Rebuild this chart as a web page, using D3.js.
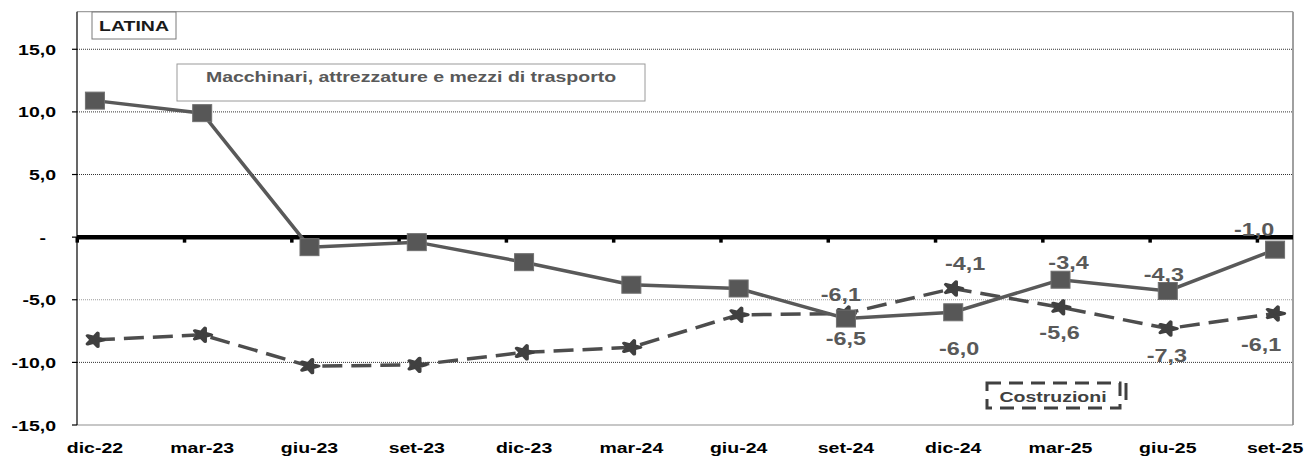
<!DOCTYPE html>
<html>
<head>
  <meta charset="utf-8">
  <title>LATINA</title>
  <script src="https://d3js.org/d3.v7.min.js"></script>
  <style>
    body { margin: 0; background: #ffffff; }
    svg text { font-family: "Liberation Sans", Arial, sans-serif; font-weight: bold; }
  </style>
</head>
<body>
<svg id="chart" width="1316" height="456"></svg>
<script>
  // data
  var categories = ["dic-22", "mar-23", "giu-23", "set-23", "dic-23", "mar-24",
                    "giu-24", "set-24", "dic-24", "mar-25", "giu-25", "set-25"];
  var macchinari = [10.9, 9.9, -0.8, -0.4, -2.0, -3.8, -4.1, -6.5, -6.0, -3.4, -4.3, -1.0];
  var costruzioni = [-8.2, -7.8, -10.3, -10.2, -9.2, -8.8, -6.2, -6.1, -4.1, -5.6, -7.3, -6.1];
  var yTicks = [-15, -10, -5, 0, 5, 10, 15];
  var firstLabelled = 7; // data labels from set-24 on

  // label nudges (px) relative to each point, last five points
  var macchLabelOff = [[0, 20], [6, 36], [8, -17], [-4, -16], [-21, -20]];
  var costrLabelOff = [[-5, -19], [12, -25], [-1, 25], [-1, 27], [-14, 31]];

  var SX = 1.3; // the picture is stretched horizontally
  var svg = d3.select("#chart");
  var plotL = 77, plotR = 1293, plotT = 11.7, plotB = 425;

  var x = d3.scalePoint().domain(categories).range([plotL, plotR]).padding(0.167);
  var y = d3.scaleLinear().domain([-15, 18]).range([plotB, plotT]);

  var itFormat = d3.formatLocale({ decimal: ",", thousands: ".", grouping: [3], currency: ["", "€"], minus: "-" }).format(".1f");
  function fmt(v) {
    return v === 0 ? "-" : itFormat(v);
  }

  // text with horizontal stretch
  function addText(parent, px, py, str, size, color, anchor) {
    var g = parent.append("g")
      .attr("transform", "translate(" + px + "," + py + ") scale(" + SX + ",1)");
    return g.append("text")
      .attr("text-anchor", anchor || "middle")
      .attr("font-size", size)
      .attr("fill", color)
      .text(str);
  }

  // gridlines
  yTicks.forEach(function(t) {
    if (t === 0 || t === -15) return;
    svg.append("line")
      .attr("x1", plotL).attr("x2", plotR)
      .attr("y1", y(t)).attr("y2", y(t))
      .attr("stroke", t === -5 ? "#9a9a9a" : "#333")
      .attr("stroke-width", 1)
      .attr("stroke-dasharray", "1,1");
  });

  // frame
  svg.append("line").attr("x1", plotL).attr("x2", plotR).attr("y1", plotT).attr("y2", plotT)
    .attr("stroke", "#a0a0a0").attr("stroke-width", 1.2);
  svg.append("line").attr("x1", plotR).attr("x2", plotR).attr("y1", plotT).attr("y2", plotB)
    .attr("stroke", "#a0a0a0").attr("stroke-width", 2);
  svg.append("line").attr("x1", plotL).attr("x2", plotR).attr("y1", plotB).attr("y2", plotB)
    .attr("stroke", "#909090").attr("stroke-width", 1.2);
  svg.append("line").attr("x1", plotL).attr("x2", plotL).attr("y1", plotT).attr("y2", plotB)
    .attr("stroke", "#000").attr("stroke-width", 1.2);

  // y ticks + labels
  yTicks.forEach(function(t) {
    svg.append("line").attr("x1", plotL - 5).attr("x2", plotL).attr("y1", y(t)).attr("y2", y(t))
      .attr("stroke", "#000").attr("stroke-width", 1.2);
    var tx = t === 0 ? 46 : 56;
    addText(svg, tx, y(t) + 5.5, fmt(t), 15, "#000", "end");
  });

  // zero line
  svg.append("line").attr("x1", plotL).attr("x2", plotR).attr("y1", y(0)).attr("y2", y(0))
    .attr("stroke", "#000").attr("stroke-width", 4.5);
  categories.forEach(function(c) {
    var tx = x(c) - x.step() * x.padding();
    svg.append("rect").attr("x", tx - 1.5).attr("y", y(0)).attr("width", 3.5).attr("height", 5.5)
      .attr("fill", "#000");
  });

  // x labels
  categories.forEach(function(c) {
    addText(svg, x(c), 452.5, c, 15, "#000", "middle");
  });

  var line = d3.line()
    .x(function(d, i) { return x(categories[i]); })
    .y(function(d) { return y(d); });

  // Costruzioni (dashed, star markers)
  svg.append("path").datum(costruzioni)
    .attr("d", line).attr("fill", "none")
    .attr("stroke", "#4d4d4d").attr("stroke-width", 3.5)
    .attr("stroke-dasharray", "20,9");
  var star = d3.symbol().type(d3.symbolStar).size(55);
  costruzioni.forEach(function(v, i) {
    svg.append("path").attr("d", star())
      .attr("transform", "translate(" + x(categories[i]) + "," + y(v) + ") scale(" + SX + ",1) rotate(18)")
      .attr("fill", "#404040").attr("stroke", "#404040").attr("stroke-width", 3)
      .attr("stroke-linejoin", "round");
  });

  // Macchinari (solid, squares)
  svg.append("path").datum(macchinari)
    .attr("d", line).attr("fill", "none")
    .attr("stroke", "#595959").attr("stroke-width", 3.5);
  macchinari.forEach(function(v, i) {
    svg.append("rect")
      .attr("x", x(categories[i]) - 9.5).attr("y", y(v) - 8.5)
      .attr("width", 19).attr("height", 17)
      .attr("fill", "#575757").attr("stroke", "#707070").attr("stroke-width", 1);
  });

  // data labels
  for (var i = firstLabelled; i < categories.length; i++) {
    var k = i - firstLabelled;
    addText(svg, x(categories[i]) + costrLabelOff[k][0], y(costruzioni[i]) + costrLabelOff[k][1] + 6.5,
      fmt(costruzioni[i]), 18, "#595959", "middle");
    addText(svg, x(categories[i]) + macchLabelOff[k][0], y(macchinari[i]) + macchLabelOff[k][1] + 6.5,
      fmt(macchinari[i]), 18, "#595959", "middle");
  }

  // title box
  svg.append("rect").attr("x", 92).attr("y", 12).attr("width", 84).attr("height", 27)
    .attr("fill", "#fff").attr("stroke", "#7a7a7a").attr("stroke-width", 1);
  addText(svg, 134, 31, "LATINA", 15, "#1a1a1a", "middle");

  // series name boxes
  svg.append("rect").attr("x", 177).attr("y", 64).attr("width", 468).attr("height", 37)
    .attr("fill", "#fff").attr("stroke", "#9a9a9a").attr("stroke-width", 1);
  addText(svg, 411, 82, "Macchinari, attrezzature e mezzi di trasporto", 15, "#595959", "middle");

  svg.append("rect").attr("x", 987).attr("y", 383).attr("width", 133).attr("height", 25)
    .attr("fill", "none").attr("stroke", "#404040").attr("stroke-width", 3)
    .attr("stroke-dasharray", "14,8");
  svg.append("line").attr("x1", 1126).attr("x2", 1126).attr("y1", 383).attr("y2", 400)
    .attr("stroke", "#404040").attr("stroke-width", 3);
  addText(svg, 1053, 402, "Costruzioni", 15, "#404040", "middle");
</script>
</body>
</html>
